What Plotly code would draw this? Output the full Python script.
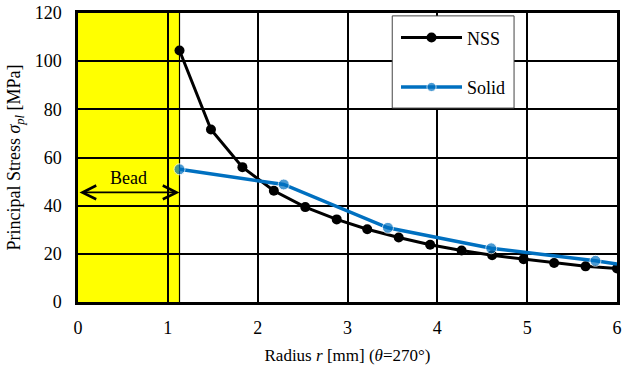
import plotly.graph_objects as go

# NSS data
nss_r = [1.13, 1.48, 1.83, 2.18, 2.53, 2.88, 3.22, 3.57, 3.92, 4.27, 4.61, 4.96, 5.30, 5.65, 6.00]
nss_s = [104.4, 71.6, 56.0, 46.2, 39.4, 34.3, 30.2, 26.8, 23.8, 21.4, 19.4, 17.8, 16.2, 14.8, 13.9]

# Solid data
solid_r = [1.13, 2.29, 3.45, 4.60, 5.76, 6.00]
solid_s = [55.1, 48.8, 30.8, 22.3, 17.1, 15.8]

bead_end = 1.13
bead_arrow_y = 45.5

x_ticks = [0, 1, 2, 3, 4, 5, 6]
y_ticks = [0, 20, 40, 60, 80, 100, 120]

FONT = "Liberation Serif"

fig = go.Figure()

fig.add_trace(go.Scatter(
    x=nss_r, y=nss_s, mode="lines+markers", name="NSS",
    line=dict(color="black", width=3),
    marker=dict(color="black", size=10),
    legendgroup="a",
))
fig.add_trace(go.Scatter(
    x=solid_r, y=solid_s, mode="lines+markers", name="Solid",
    line=dict(color="#0070C0", width=3.5),
    marker=dict(color="#0070C0", size=[11, 11, 11, 11, 11, 0]),
    legendgroup="b",
))

# bead region
fig.add_shape(type="rect", xref="x", yref="y", x0=0, x1=bead_end, y0=0, y1=120,
              fillcolor="#FFFF00", line=dict(width=0), layer="below")
fig.add_shape(type="line", xref="x", yref="y", x0=bead_end, x1=bead_end, y0=0, y1=120,
              line=dict(color="black", width=1.2), layer="below")

# legend frame (covers gridlines)
fig.add_shape(type="rect", xref="paper", yref="paper",
              x0=0.583, x1=0.809, y0=0.671, y1=0.99,
              fillcolor="white", line=dict(color="#444", width=1), layer="above")

fig.add_annotation(x=bead_end, y=bead_arrow_y, ax=0, ay=bead_arrow_y,
                   xref="x", yref="y", axref="x", ayref="y",
                   text="", showarrow=True, arrowhead=5, startarrowhead=5,
                   arrowside="end+start", arrowwidth=1.8, arrowsize=1.5,
                   startarrowsize=1.5,
                   arrowcolor="black", standoff=0, startstandoff=0)
fig.add_annotation(x=bead_end / 2, y=bead_arrow_y + 1, xref="x", yref="y",
                   text="Bead", showarrow=False, yanchor="bottom",
                   font=dict(family=FONT, size=18, color="black"))

fig.update_layout(
    width=638, height=372,
    margin=dict(l=78, r=21, t=13, b=70),
    paper_bgcolor="white", plot_bgcolor="rgba(0,0,0,0)",
    font=dict(family=FONT, size=18, color="black"),
    showlegend=True,
    legend=dict(x=0.59, y=0.978, xanchor="left", yanchor="top",
                bgcolor="rgba(0,0,0,0)", borderwidth=0,
                font=dict(family=FONT, size=18, color="black"),
                tracegroupgap=23, itemwidth=61),
)

fig.update_xaxes(range=[0, 6], tickvals=x_ticks, showgrid=True, gridcolor="black", gridwidth=1.8,
                 showline=True, linecolor="black", linewidth=2.5, mirror=True,
                 zeroline=False, ticks="", ticklabelstandoff=8, automargin=False,
                 tickfont=dict(family=FONT, size=18, color="black"),
                 title=dict(text="Radius <i>r</i> [mm] (<i>θ</i>=270°)", font=dict(family=FONT, size=17), standoff=12))
fig.update_yaxes(range=[0, 120], tickvals=y_ticks, showgrid=True, gridcolor="black", gridwidth=1.8,
                 showline=True, linecolor="black", linewidth=2.5, mirror=True,
                 zeroline=False, ticks="", ticklabelstandoff=10, automargin=False,
                 ticklabeloverflow="allow",
                 tickfont=dict(family=FONT, size=18, color="black"),
                 title=dict(text="Principal Stress <i>σ<sub>pl</sub></i> [MPa]", font=dict(family=FONT, size=18), standoff=10))

fig.write_html("out.html", config={"displayModeBar": False},
               post_script="document.body.style.margin='0px';")
